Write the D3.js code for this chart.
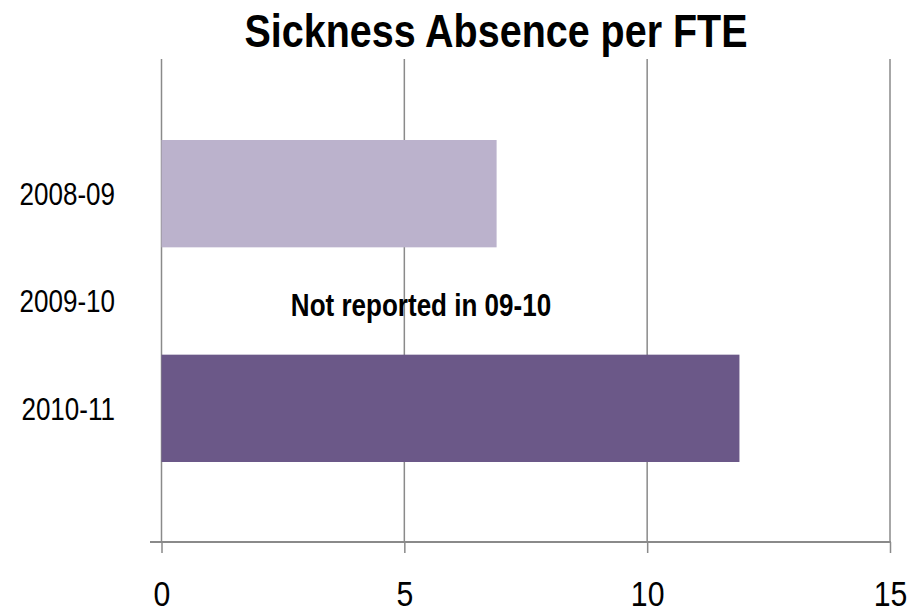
<!DOCTYPE html>
<html>
<head>
<meta charset="utf-8">
<script src="https://cdn.jsdelivr.net/npm/d3@7"></script>
<style>
  html, body { margin: 0; padding: 0; background: #fff; }
  svg { display: block; }
  text { font-family: "Liberation Sans", Arial, sans-serif; fill: #000; }
</style>
</head>
<body>
<svg id="chart" width="910" height="612"></svg>
<script>
// Sickness absence (days per FTE) by financial year
const categories = ["2008-09", "2009-10", "2010-11"];
const values = [6.9, null, 11.9];
const barColors = ["#bbb2cc", "#6b5888", "#6b5888"];
const xTicks = [0, 5, 10, 15];
const titleText = "Sickness Absence per FTE";
const noteText = "Not reported in 09-10";

const svg = d3.select("#chart");

const plot = { left: 161.5, right: 890, top: 59, bottom: 542 };
const narrow = 0.84; // horizontal squeeze giving the condensed lettering

const x = d3.scaleLinear().domain([0, 15]).range([plot.left, plot.right]);
const y = d3.scaleBand().domain(categories).range([140, 462]).padding(0);

const gridColor = "#8a8a8a";

// Condensed text placed at (tx, ty)
function narrowText(parent, tx, ty, str, size, weight, anchor) {
  return parent.append("text")
    .attr("transform", `translate(${tx},${ty}) scale(${narrow},1)`)
    .attr("text-anchor", anchor)
    .attr("font-size", size)
    .attr("font-weight", weight)
    .text(str);
}

// Title
narrowText(svg, 496, 47, titleText, 47, "bold", "middle");

// Vertical gridlines
svg.append("g")
  .selectAll("line")
  .data(xTicks)
  .join("line")
  .attr("x1", d => x(d))
  .attr("x2", d => x(d))
  .attr("y1", plot.top)
  .attr("y2", plot.bottom)
  .attr("stroke", gridColor)
  .attr("stroke-width", 1.5);

// Bars
svg.append("g")
  .selectAll("rect")
  .data(categories.map((c, i) => ({ c, v: values[i], color: barColors[i] })).filter(d => d.v != null))
  .join("rect")
  .attr("x", x(0))
  .attr("y", d => y(d.c))
  .attr("width", d => x(d.v) - x(0))
  .attr("height", y.bandwidth())
  .attr("fill", d => d.color);

// Annotation for the missing year
narrowText(svg, 421, 316, noteText, 31, "bold", "middle");

// Category labels
const gy = svg.append("g");
categories.forEach(c => {
  narrowText(gy, 115, y(c) + y.bandwidth() / 2, c, 31, "normal", "end")
    .attr("dy", "0.36em");
});

// X axis
const xAxis = d3.axisBottom(x)
  .tickValues(xTicks)
  .tickSize(11)
  .tickPadding(27)
  .tickFormat(d3.format("d"));

const gx = svg.append("g")
  .attr("transform", `translate(0,${plot.bottom})`)
  .call(xAxis);

gx.select(".domain").remove();
gx.selectAll(".tick line").attr("stroke", gridColor).attr("stroke-width", 1.5);
gx.selectAll(".tick text")
  .attr("font-size", 36)
  .attr("font-family", null)
  .attr("fill", "#000")
  .attr("transform", `scale(${narrow},1)`);

svg.append("line")
  .attr("x1", 150)
  .attr("x2", plot.right + 1)
  .attr("y1", plot.bottom)
  .attr("y2", plot.bottom)
  .attr("stroke", gridColor)
  .attr("stroke-width", 2);
</script>
</body>
</html>
